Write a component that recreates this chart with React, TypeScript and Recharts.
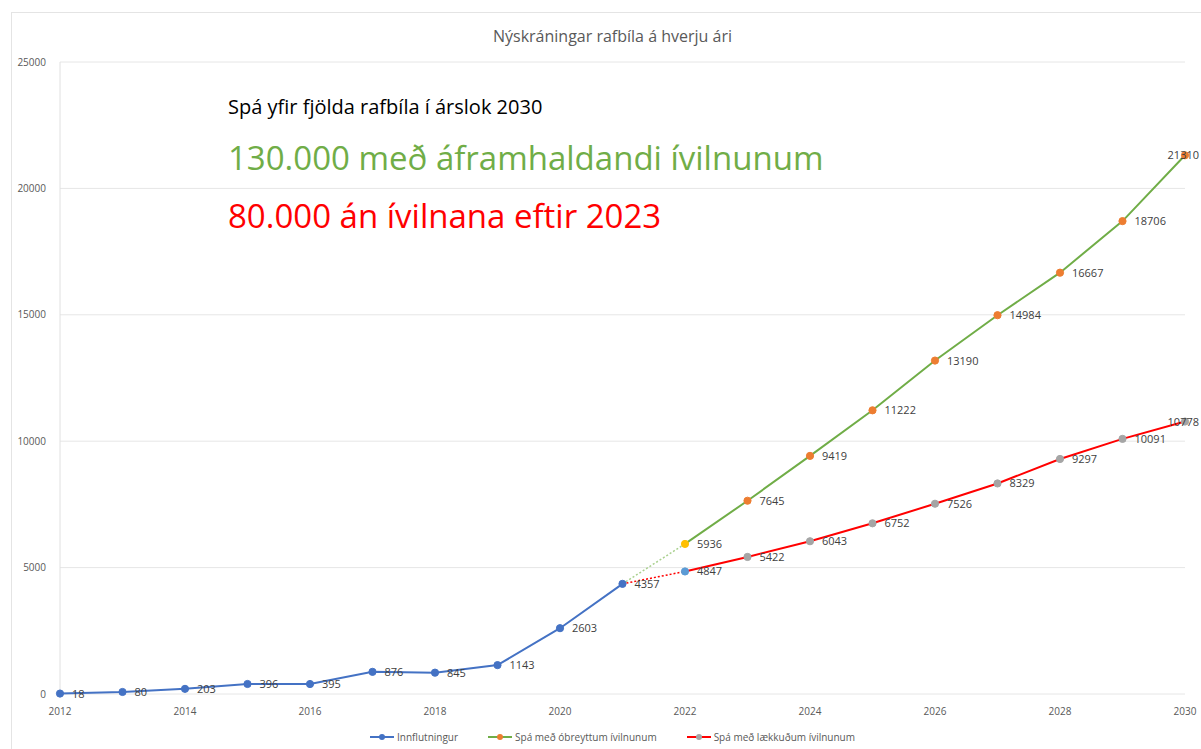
import { CartesianGrid, LabelList, Legend, Line, LineChart, XAxis, YAxis } from "recharts";

const years = [2012, 2013, 2014, 2015, 2016, 2017, 2018, 2019, 2020, 2021, 2022, 2023, 2024, 2025, 2026, 2027, 2028, 2029, 2030];
const innflutningur = [18, 80, 203, 396, 395, 876, 845, 1143, 2603, 4357];
const obreyttum = [5936, 7645, 9419, 11222, 13190, 14984, 16667, 18706, 21310];
const laekkudum = [4847, 5422, 6043, 6752, 7526, 8329, 9297, 10091, 10778];
const yTicks = [0, 5000, 10000, 15000, 20000, 25000];
const xTicks = [2012, 2014, 2016, 2018, 2020, 2022, 2024, 2026, 2028, 2030];

const BLUE = "#4472c4";
const GREEN = "#70ad47";
const RED = "#ff0000";
const ORANGE = "#ed7d31";
const GOLD = "#ffc000";
const GREY = "#a5a5a5";
const LIGHTBLUE = "#5b9bd5";
const FONT = "'Open Sans', 'Liberation Sans', sans-serif";

const forecastStart = innflutningur.length; // index of 2022
const lastIndex = years.length - 1;
const data = years.map((year, i) => {
  const f = i - forecastStart;
  return {
    year,
    innflutningur: i < forecastStart ? innflutningur[i] : undefined,
    obreyttum: f >= 0 ? obreyttum[f] : undefined,
    laekkudum: f >= 0 ? laekkudum[f] : undefined,
    // dotted links from the last actual year to the first forecast year
    greenLink: i === forecastStart - 1 ? innflutningur[i] : f === 0 ? obreyttum[0] : undefined,
    redLink: i === forecastStart - 1 ? innflutningur[i] : f === 0 ? laekkudum[0] : undefined,
  };
});

const makeDot = (color: string, firstColor: string) => (props: any) => {
  const { cx, cy, index, value } = props;
  if (value == null || cx == null || cy == null) return <g key={`d${index}`} />;
  const fill = index === forecastStart ? firstColor : color;
  return <circle key={`d${index}`} cx={cx} cy={cy} r={3.6} fill={fill} stroke={fill} />;
};

// value label to the right of the point; the last one is pulled in so it stays on the page
const PointLabel = (props: any) => {
  const { x, y, value, index } = props;
  if (value == null) return null;
  const last = index === lastIndex;
  return (
    <text
      x={last ? 1199 : x + 12}
      y={y + 4}
      textAnchor={last ? "end" : "start"}
      fontSize={11}
      fill="#404040"
      fontFamily={FONT}
    >
      {value}
    </text>
  );
};

const legendItems = [
  { name: "Innflutningur", line: BLUE, dot: BLUE },
  { name: "Spá með óbreyttum ívilnunum", line: GREEN, dot: ORANGE },
  { name: "Spá með lækkuðum ívilnunum", line: RED, dot: GREY },
];

function ChartLegend() {
  return (
    <div style={{ display: "flex", justifyContent: "center", gap: 30, fontFamily: FONT, fontSize: 10, color: "#595959", paddingLeft: 40, paddingTop: 16 }}>
      {legendItems.map((it) => (
        <span key={it.name} style={{ display: "flex", alignItems: "center", gap: 3 }}>
          <svg width={24} height={10}>
            <line x1={0} y1={5} x2={24} y2={5} stroke={it.line} strokeWidth={2} />
            <circle cx={12} cy={5} r={3} fill={it.dot} />
          </svg>
          {it.name}
        </span>
      ))}
    </div>
  );
}

export default function App() {
  return (
    <div style={{ position: "fixed", left: 0, top: 0, width: 1201, height: 749, background: "#fff", overflow: "hidden" }}>
      <div style={{ position: "absolute", left: 11, top: 12, width: 1200, height: 740, border: "1px solid #e4e4e4" }} />
      <div style={{ position: "absolute", top: 25, left: 0, width: 1225, textAlign: "center", fontFamily: FONT, fontSize: 16, color: "#595959" }}>
        Nýskráningar rafbíla á hverju ári
      </div>
      <LineChart width={1201} height={749} data={data} margin={{ top: 62, right: 16, left: 0, bottom: 12 }} style={{ position: "absolute", left: 0, top: 0 }}>
        <CartesianGrid stroke="#e6e6e6" vertical={false} />
        <XAxis
          dataKey="year"
          type="number"
          domain={[2012, 2030]}
          ticks={xTicks}
          tick={{ fill: "#595959", fontSize: 10, fontFamily: FONT }}
          tickLine={false}
          axisLine={false}
          height={20}
          tickMargin={8}
        />
        <YAxis
          domain={[0, 25000]}
          ticks={yTicks}
          tick={{ fill: "#595959", fontSize: 10, fontFamily: FONT }}
          tickLine={false}
          axisLine={{ stroke: "#e0e0e0" }}
          width={60}
          tickMargin={8}
        />
        <Legend verticalAlign="bottom" height={23} content={() => <ChartLegend />} />
        <Line dataKey="greenLink" stroke="#a9d08e" strokeWidth={1.5} strokeDasharray="2 2" dot={false} legendType="none" isAnimationActive={false} />
        <Line dataKey="redLink" stroke={RED} strokeWidth={1.5} strokeDasharray="2 2" dot={false} legendType="none" isAnimationActive={false} />
        <Line dataKey="innflutningur" stroke={BLUE} strokeWidth={2} dot={makeDot(BLUE, BLUE)} isAnimationActive={false}>
          <LabelList dataKey="innflutningur" content={PointLabel} />
        </Line>
        <Line dataKey="obreyttum" stroke={GREEN} strokeWidth={2} dot={makeDot(ORANGE, GOLD)} isAnimationActive={false}>
          <LabelList dataKey="obreyttum" content={PointLabel} />
        </Line>
        <Line dataKey="laekkudum" stroke={RED} strokeWidth={2} dot={makeDot(GREY, LIGHTBLUE)} isAnimationActive={false}>
          <LabelList dataKey="laekkudum" content={PointLabel} />
        </Line>
      </LineChart>
      <div style={{ position: "absolute", left: 228, top: 93, fontFamily: FONT, fontSize: 20, color: "#000" }}>
        Spá yfir fjölda rafbíla í árslok 2030
      </div>
      <div style={{ position: "absolute", left: 228, top: 135, fontFamily: FONT, fontSize: 33, color: GREEN }}>
        130.000 með áframhaldandi ívilnunum
      </div>
      <div style={{ position: "absolute", left: 228, top: 193, fontFamily: FONT, fontSize: 33, color: RED }}>
        80.000 án ívilnana eftir 2023
      </div>
    </div>
  );
}
